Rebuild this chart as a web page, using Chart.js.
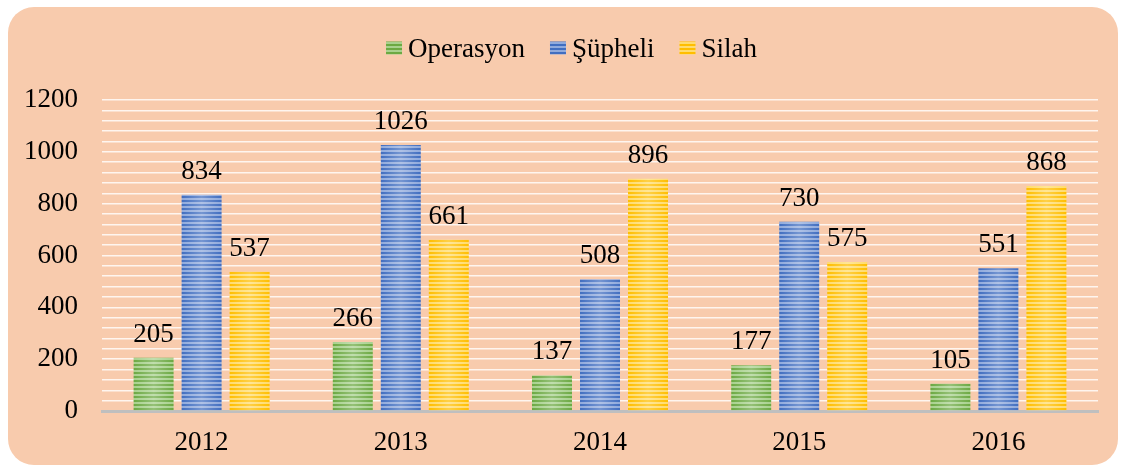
<!DOCTYPE html>
<html><head><meta charset="utf-8">
<script src="https://cdn.jsdelivr.net/npm/chart.js@4.4.0/dist/chart.umd.min.js"></script>
<style>
html,body{margin:0;padding:0;background:#fff;width:1125px;height:472px;overflow:hidden;}
#bg{position:absolute;left:8px;top:7px;width:1110px;height:458px;background:#F8CBAD;border-radius:26px;}
#wrap{position:absolute;left:0;top:0;width:1125px;height:472px;}
</style></head><body>
<div id="bg"></div>
<div id="wrap"><canvas id="c" width="1125" height="472"></canvas></div>
<script>
const categories = ['2012', '2013', '2014', '2015', '2016'];
const operasyon = [205, 266, 137, 177, 105];
const supheli = [834, 1026, 508, 730, 551];
const silah = [537, 661, 896, 575, 868];
const seriesNames = ['Operasyon', 'Şüpheli', 'Silah'];
const yTickLabels = [0, 200, 400, 600, 800, 1000, 1200];

const FONT = "'Liberation Serif', 'Times New Roman', serif";
const FS = 27;
const canvas = document.getElementById('c');
const ctx0 = canvas.getContext('2d');

function stripe(dark, light) {
  const c = document.createElement('canvas');
  c.width = 1; c.height = 4;
  const g = c.getContext('2d');
  g.fillStyle = light; g.fillRect(0, 0, 1, 4);
  g.fillStyle = dark; g.fillRect(0, 0, 1, 2);
  return ctx0.createPattern(c, 'repeat');
}
const fills = [
  stripe('#6CA943', '#A8D18E'),
  stripe('#416EC0', '#90AADC'),
  stripe('#FFBE00', '#FFDC6E')
];

const glossPlugin = {
  id: 'gloss',
  afterDatasetsDraw(chart) {
    const ctx = chart.ctx;
    chart.data.datasets.forEach((ds, i) => {
      chart.getDatasetMeta(i).data.forEach(el => {
        const p = el.getProps(['x', 'y', 'base', 'width'], true);
        const l = p.x - p.width / 2, r = p.x + p.width / 2;
        const g = ctx.createLinearGradient(l, 0, r, 0);
        g.addColorStop(0, 'rgba(255,255,255,0)');
        g.addColorStop(0.5, 'rgba(255,255,255,0.28)');
        g.addColorStop(1, 'rgba(255,255,255,0)');
        ctx.save();
        ctx.fillStyle = g;
        ctx.fillRect(l, p.y, p.width, p.base - p.y);
        ctx.restore();
      });
    });
  }
};

const labelPlugin = {
  id: 'valueLabels',
  afterDatasetsDraw(chart) {
    const ctx = chart.ctx;
    ctx.save();
    ctx.font = FS + 'px ' + FONT;
    ctx.fillStyle = '#000';
    ctx.textAlign = 'center';
    ctx.textBaseline = 'alphabetic';
    chart.data.datasets.forEach((ds, i) => {
      chart.getDatasetMeta(i).data.forEach((el, j) => {
        const p = el.getProps(['x', 'y'], true);
        ctx.fillText(String(ds.data[j]), p.x, p.y - 16);
      });
    });
    ctx.restore();
  }
};

const legendPlugin = {
  id: 'customLegend',
  afterDraw(chart) {
    const ctx = chart.ctx;
    ctx.save();
    ctx.font = FS + 'px ' + FONT;
    const box = 16, gap = 6, itemGap = 25;
    const widths = chart.data.datasets.map(d => ctx.measureText(d.label).width);
    const total = widths.reduce((a, w) => a + box + gap + w, 0) + itemGap * (widths.length - 1);
    let x = 571.5 - total / 2;
    chart.data.datasets.forEach((d, i) => {
      ctx.fillStyle = d.backgroundColor;
      ctx.fillRect(x, 41.5, box, 13);
      ctx.fillStyle = '#000';
      ctx.textBaseline = 'alphabetic';
      ctx.textAlign = 'left';
      ctx.fillText(d.label, x + box + gap, 56.5);
      x += box + gap + widths[i] + itemGap;
    });
    ctx.restore();
  }
};

Chart.defaults.font.family = FONT;
Chart.defaults.font.size = FS;
Chart.defaults.color = '#000';

new Chart(canvas, {
  type: 'bar',
  data: {
    labels: categories,
    datasets: [
      { label: seriesNames[0], data: operasyon, backgroundColor: fills[0] },
      { label: seriesNames[1], data: supheli, backgroundColor: fills[1] },
      { label: seriesNames[2], data: silah, backgroundColor: fills[2] }
    ]
  },
  options: {
    responsive: false,
    animation: false,
    devicePixelRatio: 1,
    layout: { padding: { top: 100, right: 27, bottom: 0, left: 0 } },
    datasets: { bar: { barPercentage: 0.833, categoryPercentage: 0.723 } },
    plugins: { legend: { display: false }, tooltip: { enabled: false } },
    scales: {
      x: {
        grid: { display: false, drawTicks: false },
        border: { display: true, color: '#BFBFBF', width: 3 },
        ticks: { padding: 16, font: { size: FS } },
        afterFit(s) { s.height = 61; }
      },
      y: {
        min: 0, max: 1200,
        afterFit(s) { s.width = 102; },
        border: { display: false },
        grid: {
          drawTicks: false,
          color: c => (c.tick && c.tick.value === 0) ? 'rgba(0,0,0,0)' : 'rgba(255,255,255,0.8)',
          lineWidth: 1.5
        },
        ticks: {
          stepSize: 40,
          autoSkip: false,
          padding: 24,
          font: { size: FS },
          callback: v => yTickLabels.includes(v) ? String(v) : ''
        }
      }
    }
  },
  plugins: [glossPlugin, labelPlugin, legendPlugin]
});
</script>
</body></html>
